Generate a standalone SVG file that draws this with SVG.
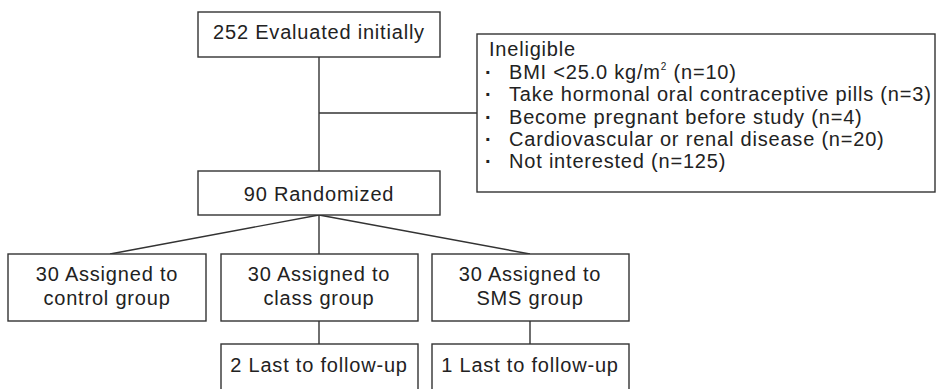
<svg xmlns="http://www.w3.org/2000/svg" width="936" height="389" viewBox="0 0 936 389">
<style>
.b{fill:#fff;stroke:#333;stroke-width:1.4}
.c{fill:none;stroke:#333;stroke-width:1.4}
text{font-family:"Liberation Sans",Arial,sans-serif;font-size:20px;fill:#222;letter-spacing:0.8px}
.m{text-anchor:middle}
.d{font-weight:bold}
</style>
<rect width="936" height="389" fill="#fff"/>
<g id="connectors">
<line class="c" x1="319" y1="57" x2="319" y2="171"/>
<line class="c" x1="319" y1="113" x2="477" y2="113"/>
<line class="c" x1="319" y1="215" x2="110" y2="254"/>
<line class="c" x1="319" y1="215" x2="319" y2="254"/>
<line class="c" x1="319" y1="215" x2="530" y2="254"/>
<line class="c" x1="319" y1="321" x2="319" y2="344"/>
<line class="c" x1="530" y1="321" x2="530" y2="344"/>
</g>
<g id="evaluated">
<rect class="b" x="198" y="12" width="242" height="45"/>
<text class="m" x="319" y="39">252 Evaluated initially</text>
</g>
<g id="ineligible">
<rect class="b" x="477" y="34" width="458" height="158"/>
<text x="489" y="56">Ineligible</text>
<text x="485" y="79"><tspan class="d">·</tspan><tspan x="509">BMI &lt;25.0 kg/m</tspan><tspan font-size="10" dy="-9">2</tspan><tspan dy="9"> (n=10)</tspan></text>
<text x="485" y="101"><tspan class="d">·</tspan><tspan x="509">Take hormonal oral contraceptive pills (n=3)</tspan></text>
<text x="485" y="124"><tspan class="d">·</tspan><tspan x="509">Become pregnant before study (n=4)</tspan></text>
<text x="485" y="146"><tspan class="d">·</tspan><tspan x="509">Cardiovascular or renal disease (n=20)</tspan></text>
<text x="485" y="168"><tspan class="d">·</tspan><tspan x="509">Not interested (n=125)</tspan></text>
</g>
<g id="randomized">
<rect class="b" x="198" y="171" width="242" height="44"/>
<text class="m" x="319" y="201">90 Randomized</text>
</g>
<g id="control">
<rect class="b" x="8" y="254" width="198" height="67"/>
<text class="m" x="107" y="281">30 Assigned to</text>
<text class="m" x="107" y="305">control group</text>
</g>
<g id="class">
<rect class="b" x="221" y="254" width="197" height="67"/>
<text class="m" x="319" y="281">30 Assigned to</text>
<text class="m" x="319" y="305">class group</text>
</g>
<g id="sms">
<rect class="b" x="432" y="254" width="197" height="67"/>
<text class="m" x="530" y="281">30 Assigned to</text>
<text class="m" x="530" y="305">SMS group</text>
</g>
<g id="followup-class">
<rect class="b" x="221" y="344" width="197" height="50"/>
<text class="m" x="319" y="372">2 Last to follow-up</text>
</g>
<g id="followup-sms">
<rect class="b" x="432" y="344" width="197" height="50"/>
<text class="m" x="530" y="372">1 Last to follow-up</text>
</g>
</svg>
